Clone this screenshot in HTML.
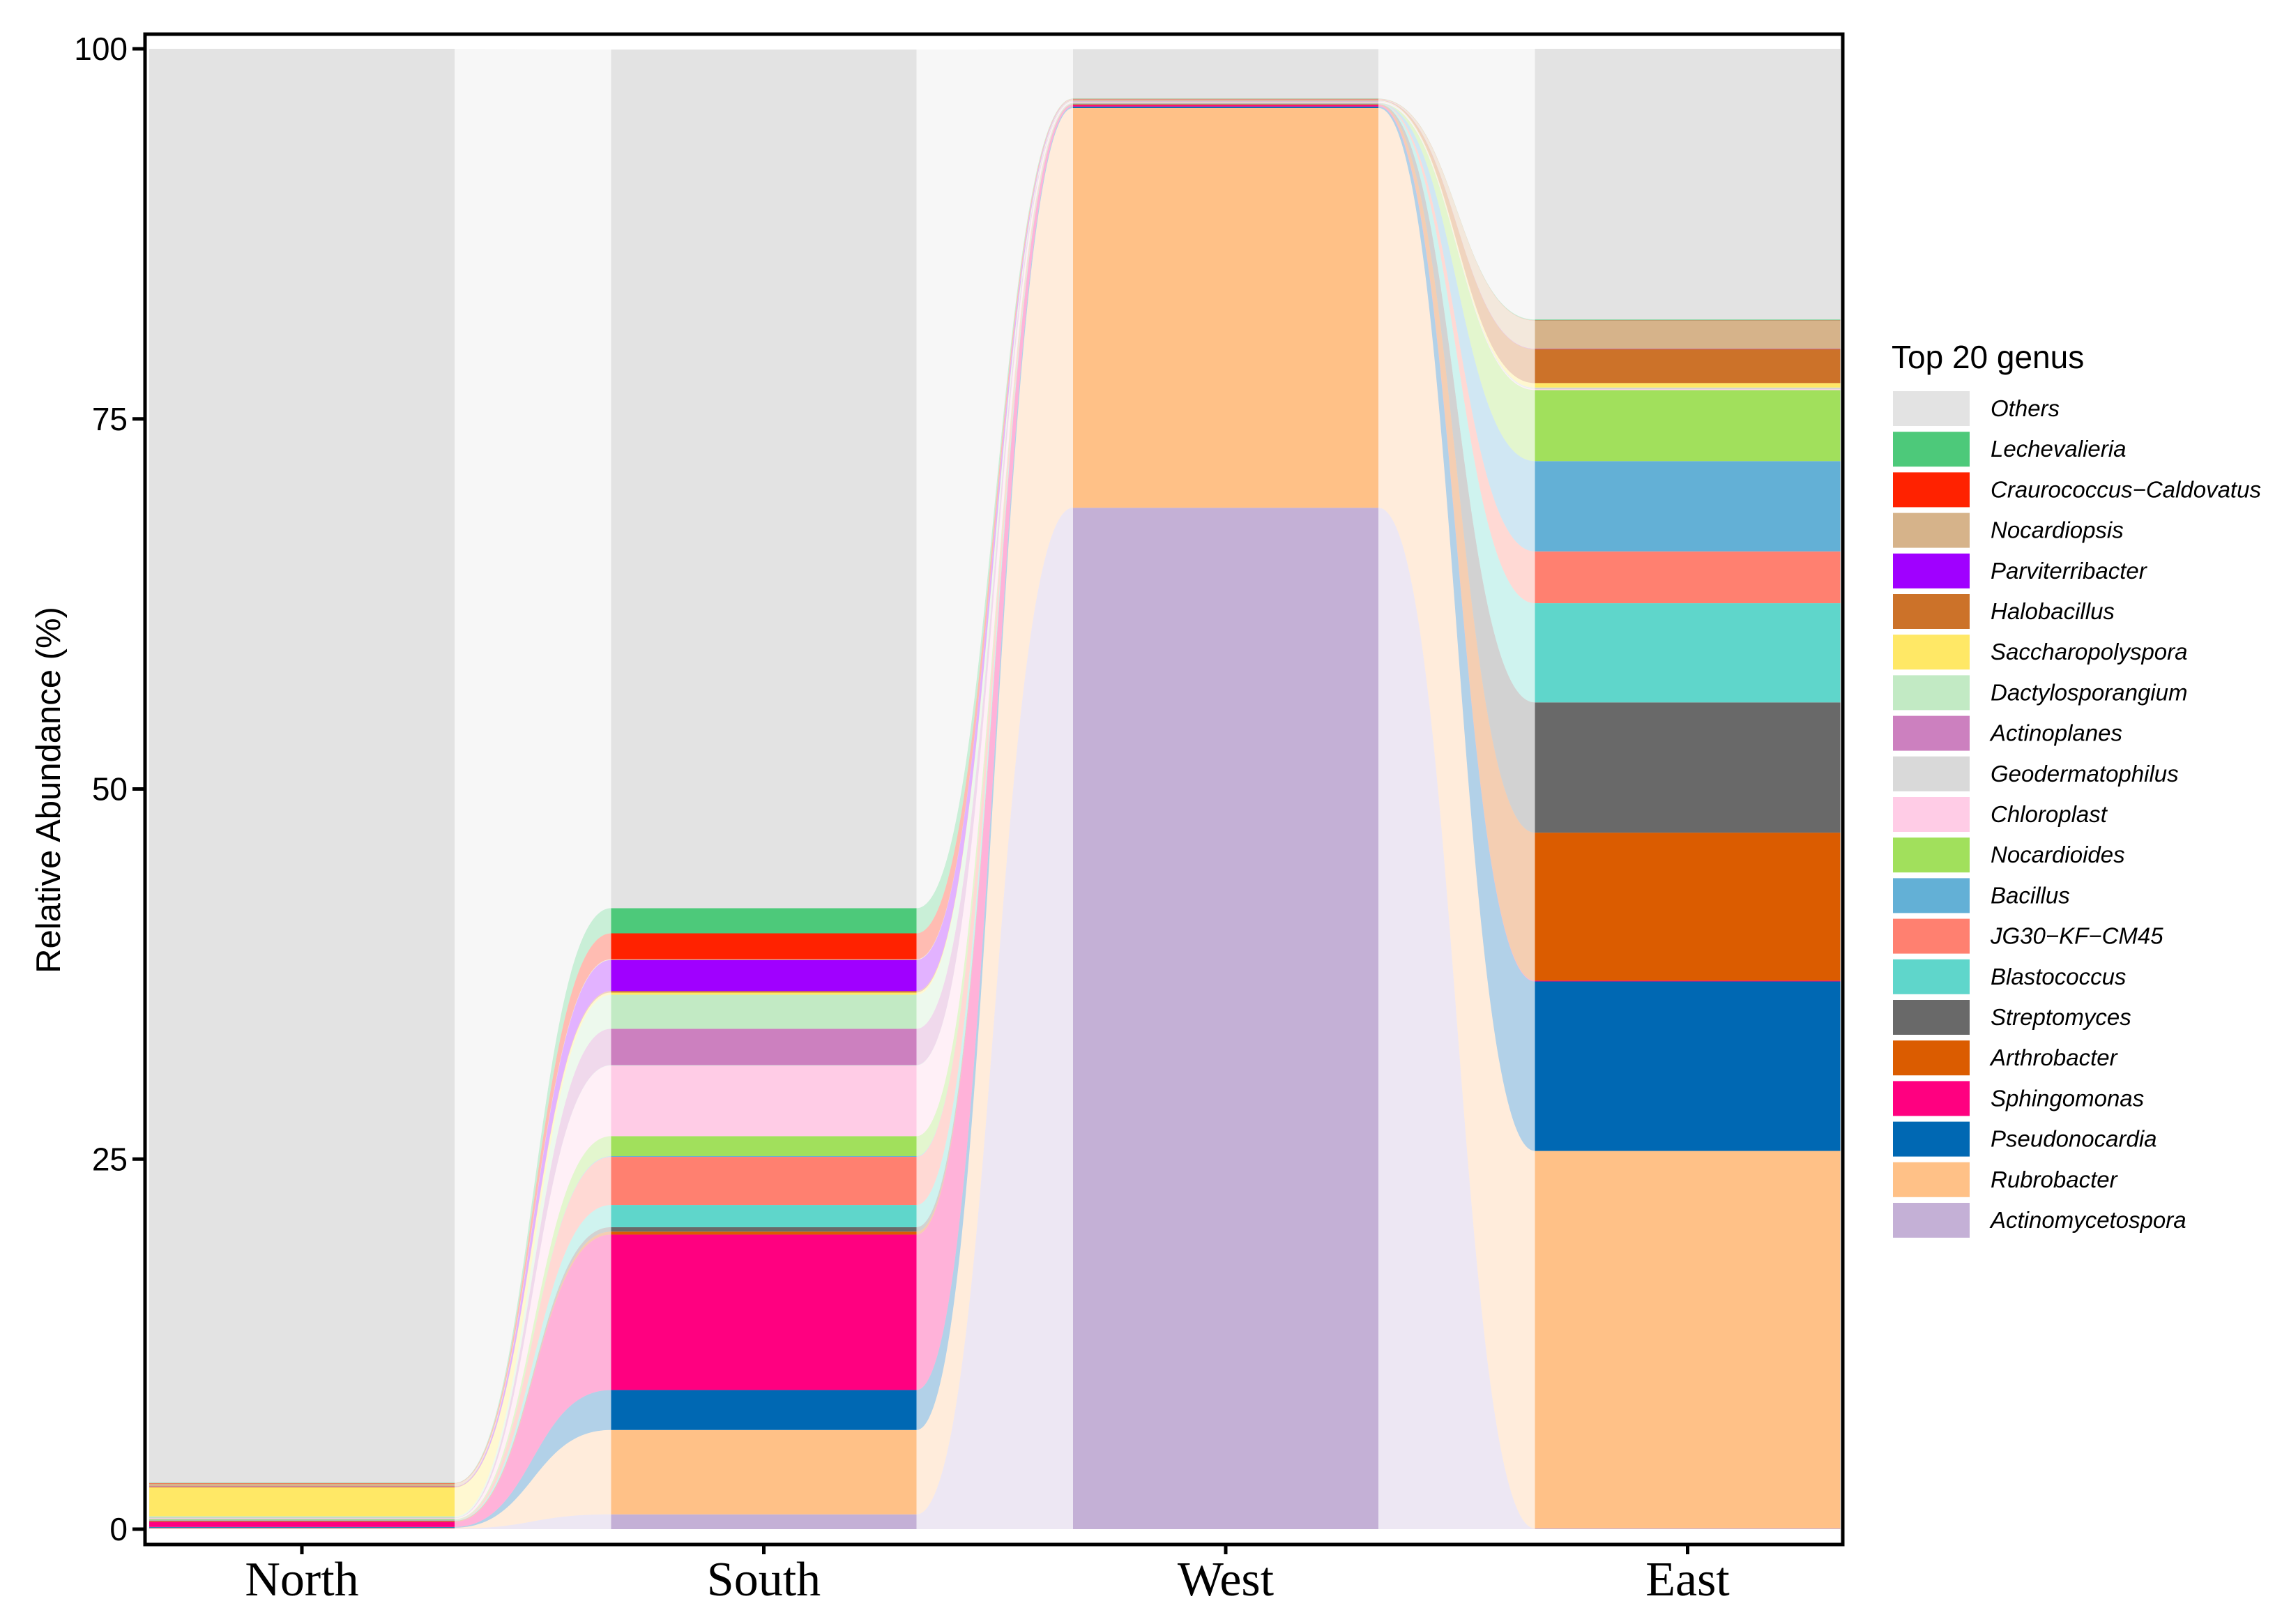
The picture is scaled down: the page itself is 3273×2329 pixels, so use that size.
<!DOCTYPE html>
<html><head><meta charset="utf-8"><style>
html,body{margin:0;padding:0;background:#fff;}
svg{display:block;}
</style></head><body>
<svg id="chart" width="3273" height="2329" viewBox="0 0 3273 2329" xmlns="http://www.w3.org/2000/svg">
<g id="ribbons"></g>
<g id="bars"></g>
<g id="axes"></g>
<g id="legend"></g>
</svg>
<script>
const categories = ["North","South","West","East"];
const genera = ["Actinomycetospora","Rubrobacter","Pseudonocardia","Sphingomonas","Arthrobacter","Streptomyces","Blastococcus","JG30\u2212KF\u2212CM45","Bacillus","Nocardioides","Chloroplast","Geodermatophilus","Actinoplanes","Dactylosporangium","Saccharopolyspora","Halobacillus","Parviterribacter","Nocardiopsis","Craurococcus\u2212Caldovatus","Lechevalieria","Others"];
const colors = ["#c4b0d6","#ffc187","#0068b3","#ff0080","#db5c00","#696969","#5fd6cb","#ff8070","#63b0d6","#a1e05c","#ffcce6","#d9d9d9","#cc80bf","#c2eac4","#ffe866","#cc7229","#a000ff","#d6b38a","#ff2200","#4dc97a","#e3e3e3"];
const northValues = [0.05,0.05,0.05,0.35,0.05,0.02,0.02,0.02,0.02,0.05,0.05,0.02,0.02,0.1,1.95,0.05,0.02,0.2,0.02,0.02,96.87];
const southValues = [1.0,5.7,2.7,10.5,0.2,0.3,1.5,3.25,0.05,1.35,4.75,0.05,2.45,2.3,0.15,0.1,2.1,0.05,1.75,1.7,58.0];
const westValues = [69.0,27.0,0.1,0.1,0.05,0.02,0.02,0.02,0.02,0.02,0.05,0.05,0.02,0.02,0.02,0.02,0.02,0.05,0.02,0.02,3.34];
const eastValues = [0.05,25.5,11.45,0.05,10.0,8.8,6.7,3.5,6.1,4.8,0.05,0.05,0.02,0.05,0.3,2.3,0.02,1.9,0.02,0.05,18.29];
const yTicks = [0,25,50,75,100];

const NS="http://www.w3.org/2000/svg";
const siteValues=[northValues,southValues,westValues,eastValues];
const PL=208,PR=2643,PT=49,PB=2215;
const Y0=2193,Y100=70;
function y(v){return Y0-(Y0-Y100)*v/100;}
const step=662.5,barW=438,firstCenter=433;
function xc(i){return firstCenter+i*step;}
function mk(tag,attrs,parent){const e=document.createElementNS(NS,tag);for(const k in attrs)e.setAttribute(k,attrs[k]);parent.appendChild(e);return e;}

const stacks=siteValues.map(vals=>{let c=0;return vals.map(v=>{const s=[c,c+v];c+=v;return s;});});

const rib=document.getElementById('ribbons');
for(let i=0;i<categories.length-1;i++){
  const x1=xc(i)+barW/2,x2=xc(i+1)-barW/2,m=(x2-x1)*0.5;
  for(let g=0;g<genera.length;g++){
    const a=stacks[i][g],b=stacks[i+1][g];
    const d=`M${x1},${y(a[1])} C${x1+m},${y(a[1])} ${x2-m},${y(b[1])} ${x2},${y(b[1])} L${x2},${y(b[0])} C${x2-m},${y(b[0])} ${x1+m},${y(a[0])} ${x1},${y(a[0])} Z`;
    const p=mk('path',{d:d,fill:colors[g],'fill-opacity':0.3},rib);
    
    
  }
}
const bars=document.getElementById('bars');
for(let i=0;i<categories.length;i++){
  for(let g=0;g<genera.length;g++){
    const s=stacks[i][g];
    const r=mk('rect',{x:xc(i)-barW/2,y:y(s[1]),width:barW,height:Math.max(0,y(s[0])-y(s[1])),fill:colors[g]},bars);
    
    
  }
}
const ax=document.getElementById('axes');
const frame=mk('rect',{x:PL,y:PT,width:PR-PL,height:PB-PT,fill:'none',stroke:'#000','stroke-width':5},ax);


yTicks.forEach(t=>{
  const l=mk('line',{x1:190,x2:PL,y1:y(t),y2:y(t),stroke:'#000','stroke-width':5},ax);
  
  
  const tx=mk('text',{x:183,y:y(t)+16,'text-anchor':'end','font-family':'Liberation Sans, sans-serif','font-size':46,fill:'#000'},ax);
  tx.textContent=t;
  
  
});
categories.forEach((c,i)=>{
  const l=mk('line',{x1:xc(i),x2:xc(i),y1:PB,y2:PB+14,stroke:'#000','stroke-width':5},ax);
  
  
  const tx=mk('text',{x:xc(i),y:2288,'text-anchor':'middle','font-family':'Liberation Serif, serif','font-size':70,fill:'#000'},ax);
  tx.textContent=c;
  
  
});
const yt=mk('text',{x:0,y:0,transform:'translate(86,1133) rotate(-90)','text-anchor':'middle','font-family':'Liberation Sans, sans-serif','font-size':49,fill:'#000'},ax);
yt.textContent='Relative Abundance (%)';



const lg=document.getElementById('legend');
const lt=mk('text',{x:2713,y:528,'font-family':'Liberation Sans, sans-serif','font-size':46,fill:'#000'},lg);
lt.textContent='Top 20 genus';


for(let k=0;k<genera.length;k++){
  const g=genera.length-1-k;
  const cy=586+k*58.2;
  const r=mk('rect',{x:2715,y:cy-25,width:110,height:50,fill:colors[g]},lg);
  
  
  const t=mk('text',{x:2855,y:cy+11,'font-family':'Liberation Sans, sans-serif','font-size':33,'font-style':'italic',fill:'#000'},lg);
  t.textContent=genera[g];
  
  
}
</script>
</body></html>
